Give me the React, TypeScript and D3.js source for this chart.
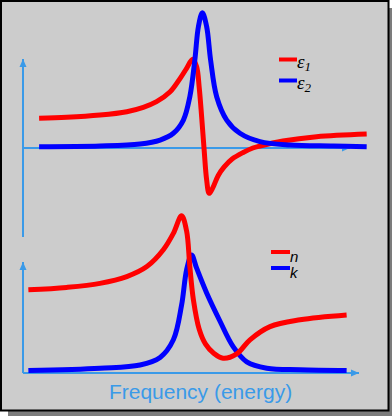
// @ts-nocheck
import React, { useRef, useEffect } from "react";
import * as d3 from "d3";

// frequency in arbitrary units (resonance near 5)
const epsFreq1 = [0.45, 1.22, 2.15, 2.9, 3.36, 3.73, 4.11, 4.39, 4.57, 4.74, 4.85, 4.92, 4.99, 5.06, 5.13, 5.2, 5.3, 5.45, 5.62, 5.85, 6.15, 6.42, 6.62, 7.26, 8.2, 9.6];
const eps1 = [2.2, 2.27, 2.44, 2.69, 3.01, 3.43, 4.16, 5.16, 5.9, 6.57, 6.02, 4.54, 2.32, -0.15, -2.37, -3.36, -2.95, -2.05, -1.4, -0.8, -0.33, 0.0, 0.15, 0.52, 0.84, 1.04];

const epsFreq2 = [0.45, 2.15, 3.27, 3.83, 4.2, 4.48, 4.66, 4.8, 4.9, 5.01, 5.13, 5.24, 5.41, 5.69, 6.06, 6.62, 7.46, 8.66, 9.6];
const eps2 = [0.1, 0.15, 0.3, 0.59, 1.09, 2.07, 3.8, 6.52, 8.99, 10.02, 8.99, 6.52, 3.8, 2.07, 1.09, 0.47, 0.22, 0.15, 0.1];

const nFreq = [0.15, 1.22, 2.15, 2.9, 3.46, 3.92, 4.2, 4.43, 4.57, 4.66, 4.76, 4.92, 5.1, 5.32, 5.59, 5.97, 6.34, 6.9, 7.74, 9.04];
const nVals = [2.08, 2.14, 2.24, 2.41, 2.66, 3.08, 3.49, 3.93, 3.55, 2.66, 1.83, 1.1, 0.72, 0.5, 0.37, 0.48, 0.83, 1.16, 1.33, 1.45];

const kFreq = [0.15, 2.15, 3.27, 3.83, 4.2, 4.43, 4.57, 4.71, 4.85, 5.13, 5.5, 5.87, 6.25, 6.81, 7.74, 9.04];
const kVals = [0.06, 0.12, 0.2, 0.39, 0.83, 1.7, 2.58, 2.95, 2.62, 2.0, 1.3, 0.66, 0.28, 0.12, 0.08, 0.06];

const topLegend = ["1", "2"]; // subscripts of ε
const bottomLegend = ["n", "k"];
const xLabel = "Frequency (energy)";

const RED = "#ff0000";
const BLUE = "#0000ff";
const AXIS = "#3a9ae8";

const App = () => {
  const svgRef = useRef(null);

  useEffect(() => {
    document.body.style.margin = "0";
    const svg = d3.select(svgRef.current);
    svg.selectAll("*").remove();

    const width = 392,
      height = 416;

    // frame with shadow
    svg.append("rect").attr("x", 8).attr("y", 8).attr("width", 384).attr("height", 408).attr("fill", "#7c7c7c");
    svg
      .append("rect")
      .attr("x", 1)
      .attr("y", 1)
      .attr("width", 387.5)
      .attr("height", 409.5)
      .attr("fill", "#cccccc")
      .attr("stroke", "#000")
      .attr("stroke-width", 2);

    const x = d3.scaleLinear().domain([0, 10]).range([23, 381]);
    const yTop = d3.scaleLinear().domain([0, 10]).range([148, 13]);
    const yBot = d3.scaleLinear().domain([0, 3]).range([373, 253]);

    const line = (ys) =>
      d3
        .line()
        .x((d) => x(d[0]))
        .y((d) => ys(d[1]))
        .curve(d3.curveCatmullRom.alpha(0.5));

    const zip = (a, b) => a.map((v, i) => [v, b[i]]);

    // axes with arrows
    const arrowLine = (x1, y1, x2, y2) => {
      svg
        .append("line")
        .attr("x1", x1)
        .attr("y1", y1)
        .attr("x2", x2)
        .attr("y2", y2)
        .attr("stroke", AXIS)
        .attr("stroke-width", 2);
      const ang = Math.atan2(y2 - y1, x2 - x1);
      const L = 8,
        W = 3.5;
      const bx = x2 - L * Math.cos(ang),
        by = y2 - L * Math.sin(ang);
      const px = -Math.sin(ang) * W,
        py = Math.cos(ang) * W;
      svg
        .append("path")
        .attr("d", `M${x2},${y2}L${bx + px},${by + py}L${bx - px},${by - py}Z`)
        .attr("fill", AXIS);
    };

    // top panel axes
    svg
      .append("line")
      .attr("x1", x(0))
      .attr("y1", yTop(0))
      .attr("x2", x(0))
      .attr("y2", 237)
      .attr("stroke", AXIS)
      .attr("stroke-width", 2);
    arrowLine(x(0), yTop(0), x(0), 59);
    arrowLine(x(0), yTop(0), 350, yTop(0));

    // bottom panel axes
    arrowLine(x(0), yBot(0), x(0), 262);
    arrowLine(x(0), yBot(0), 359, yBot(0));

    const drawCurve = (data, ys, color) =>
      svg
        .append("path")
        .datum(data)
        .attr("d", line(ys))
        .attr("fill", "none")
        .attr("stroke", color)
        .attr("stroke-width", 5)
        .attr("stroke-linecap", "butt")
        .attr("stroke-linejoin", "round");

    drawCurve(zip(epsFreq1, eps1), yTop, RED);
    drawCurve(zip(epsFreq2, eps2), yTop, BLUE);
    drawCurve(zip(kFreq, kVals), yBot, BLUE);
    drawCurve(zip(nFreq, nVals), yBot, RED);

    // top legend
    const topColors = [RED, BLUE];
    topLegend.forEach((sub, i) => {
      const ly = 59.5 + i * 21;
      svg
        .append("line")
        .attr("x1", 279)
        .attr("x2", 297)
        .attr("y1", ly)
        .attr("y2", ly)
        .attr("stroke", topColors[i])
        .attr("stroke-width", 4);
      const t = svg
        .append("text")
        .attr("x", 297)
        .attr("y", ly + 8.5)
        .attr("font-family", "Liberation Serif, serif")
        .attr("font-style", "italic")
        .attr("font-size", 19)
        .attr("fill", "#000");
      t.append("tspan").text("ε");
      t.append("tspan").attr("dy", 3).attr("font-size", 13).text(sub);
    });

    // bottom legend
    bottomLegend.forEach((lab, i) => {
      const ly = 252 + i * 16;
      svg
        .append("line")
        .attr("x1", 271)
        .attr("x2", 290)
        .attr("y1", ly)
        .attr("y2", ly)
        .attr("stroke", topColors[i])
        .attr("stroke-width", 4);
      svg
        .append("text")
        .attr("x", 290)
        .attr("y", ly + 9.5)
        .attr("font-family", "Liberation Sans, Arial, sans-serif")
        .attr("font-style", "italic")
        .attr("font-size", 15)
        .attr("fill", "#000")
        .text(lab);
    });

    // x label
    svg
      .append("text")
      .attr("x", 200.5)
      .attr("y", 399)
      .attr("text-anchor", "middle")
      .attr("font-family", "Liberation Sans, Arial, sans-serif")
      .attr("font-size", 21)
      .attr("fill", AXIS)
      .text(xLabel);

    svg.attr("width", width).attr("height", height).attr("viewBox", [0, 0, width, height]);
  }, []);

  return <svg ref={svgRef} style={{ display: "block" }}></svg>;
};

export default App;
